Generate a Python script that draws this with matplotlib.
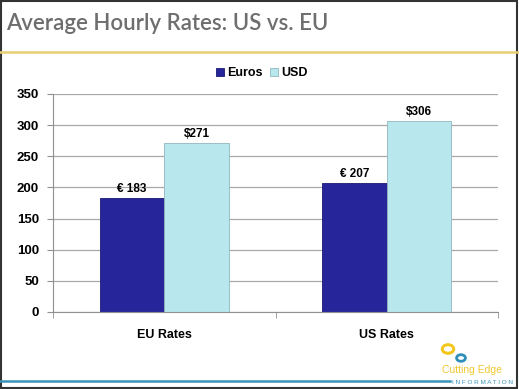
import matplotlib
matplotlib.use("Agg")
import matplotlib.pyplot as plt
import numpy as np
from matplotlib.patches import Circle, Rectangle
from matplotlib.lines import Line2D

categories = ["EU Rates", "US Rates"]
euros = [183, 207]
usd = [271, 306]
euro_labels = ["€ 183", "€ 207"]
usd_labels = ["$271", "$306"]
series_names = ["Euros", "USD"]
yticks = [0, 50, 100, 150, 200, 250, 300, 350]

W, H = 519, 389
fig = plt.figure(figsize=(W / 100, H / 100), dpi=100)
plt.rcParams['font.family'] = ['Liberation Sans', 'DejaVu Sans']

def fx(px):
    return px / W

def fy(py):
    return 1 - py / H

# frame border
fig.add_artist(Rectangle((0.002, 0.002), 0.995, 0.996, transform=fig.transFigure,
                         fill=False, edgecolor="#333333", linewidth=1.5))
# title
fig.text(fx(6), fy(24), "Average Hourly Rates: US vs. EU", fontsize=16,
         color="#6e6e6e", ha="left", va="center", fontweight="semibold",
         family=["Lato", "DejaVu Sans"])
fig.add_artist(Line2D([0, 1], [fy(52), fy(52)], transform=fig.transFigure,
                      color="#e6cf72", linewidth=1.8))
# bottom blue line
fig.add_artist(Line2D([0, fx(450)], [fy(381), fy(381)], transform=fig.transFigure,
                      color="#3a93b8", linewidth=1.8))

ax = fig.add_axes([fx(53), fy(312), fx(498) - fx(53), fy(94) - fy(312)])
x = np.arange(len(categories))
w = 0.29
b1 = ax.bar(x - w / 2, euros, w, color="#26259a", edgecolor="#1a1a70", linewidth=0.6,
            label=series_names[0])
b2 = ax.bar(x + w / 2, usd, w, color="#b9e7ee", edgecolor="#8fb7bd", linewidth=0.6,
            label=series_names[1])
for i in range(len(categories)):
    ax.text(x[i] - w / 2, euros[i] + 5, euro_labels[i], ha="center", va="bottom",
            fontsize=8.5, fontweight="bold")
    ax.text(x[i] + w / 2, usd[i] + 5, usd_labels[i], ha="center", va="bottom",
            fontsize=8.5, fontweight="bold")

ax.set_xlim(-0.5, 1.5)
ax.set_ylim(0, 350)
ax.set_yticks(yticks)
ax.set_yticklabels([str(t) for t in yticks], fontsize=9.5, fontweight="bold")
ax.yaxis.grid(True, color="#a8a8a8", linewidth=0.9)
ax.set_axisbelow(True)
ax.set_xticks(x)
ax.set_xticklabels(categories, fontsize=9, fontweight="bold")
ax.set_xticks([-0.5, 0.5, 1.5], minor=True)
ax.tick_params(axis="x", which="major", length=0, pad=12)
ax.tick_params(axis="x", which="minor", length=4, color="#909090")
ax.tick_params(axis="y", length=4, color="#909090", pad=6)
for s in ["top", "right"]:
    ax.spines[s].set_visible(False)
ax.spines["left"].set_color("#909090")
ax.spines["bottom"].set_color("#909090")

leg = fig.legend(handles=[b1, b2], loc="center", bbox_to_anchor=(fx(262), fy(73)),
                 ncol=2, frameon=False, prop={"weight": "bold", "size": 9},
                 handlelength=0.6, handleheight=0.6, handletextpad=0.3, columnspacing=0.6)

# logo
fig.add_artist(Circle((fx(448), fy(349)), 0.011, transform=fig.transFigure,
                      fill=False, edgecolor="#f2c81e", linewidth=2.2))
fig.add_artist(Circle((fx(461), fy(358)), 0.0085, transform=fig.transFigure,
                      fill=False, edgecolor="#2f8fb8", linewidth=2.0))
fig.text(fx(442), fy(370), "Cutting Edge", fontsize=7.5, color="#f0c830",
         ha="left", va="center")
fig.text(fx(452), fy(382), "I N F O R M A T I O N", fontsize=4.6, color="#3a93b8",
         ha="left", va="center")

fig.savefig("out.png", dpi=100)
